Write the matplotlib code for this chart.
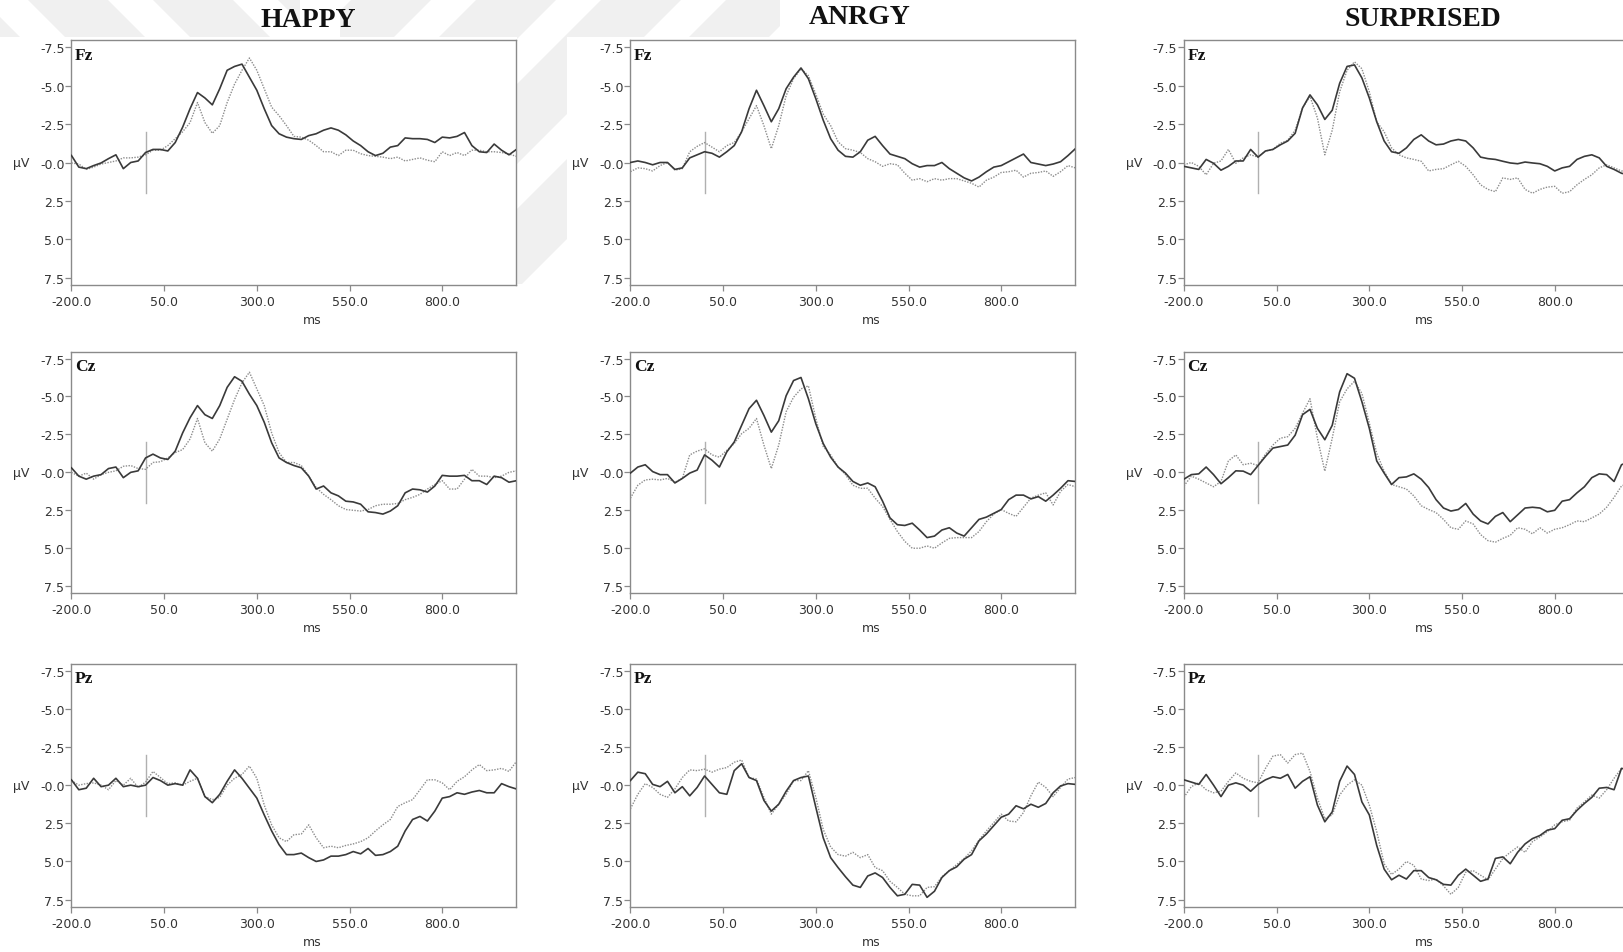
import numpy as np
import matplotlib
matplotlib.use("Agg")
import matplotlib.pyplot as plt
from matplotlib.patches import Polygon, Rectangle

# ---------------------------------------------------------------- data
time_ms = np.arange(-200, 1001, 20)

conditions = ["HAPPY", "ANRGY", "SURPRISED"]
electrodes = ["Fz", "Cz", "Pz"]

y_ticks = [-7.5, -5.0, -2.5, 0.0, 2.5, 5.0, 7.5]
y_tick_labels = ["-7.5", "-5.0", "-2.5", "-0.0", "2.5", "5.0", "7.5"]
x_ticks = [-200, 50, 300, 550, 800]
x_tick_labels = ["-200.0", "50.0", "300.0", "550.0", "800.0"]

# HAPPY
happy_fz_solid = [-0.46, 0.3, 0.4, 0.2, 0.03, -0.25, -0.5, 0.4, 0.0, -0.1, -0.65, -0.85, -0.85, -0.75, -1.3,
                  -2.3, -3.5, -4.55, -4.2, -3.75, -4.8, -6.0, -6.25, -6.4, -5.55, -4.7, -3.5, -2.4, -1.87, -1.65,
                  -1.55, -1.5, -1.75, -1.87, -2.1, -2.25, -2.1, -1.8, -1.4, -1.1, -0.7, -0.45, -0.6, -1.0, -1.1,
                  -1.6, -1.55, -1.55, -1.5, -1.3, -1.65, -1.6, -1.7, -1.95, -1.1, -0.7, -0.65, -1.2, -0.8, -0.5, -0.85]
happy_fz_dotted = [0.03, 0.1, 0.45, 0.3, 0.1, 0.0, -0.1, -0.3, -0.3, -0.35, -0.5, -0.8, -0.8, -1.1, -1.55,
                   -2.0, -2.6, -3.9, -2.6, -1.9, -2.4, -3.9, -5.1, -6.0, -6.8, -6.0, -4.8, -3.6, -3.05, -2.4,
                   -1.7, -1.65, -1.45, -1.1, -0.7, -0.7, -0.45, -0.8, -0.8, -0.57, -0.45, -0.4, -0.35, -0.25, -0.35,
                   -0.1, -0.2, -0.3, -0.15, -0.05, -0.7, -0.45, -0.65, -0.45, -0.8, -0.8, -0.7, -0.7, -0.65, -0.55, -0.4]
happy_cz_solid = [-0.3, 0.25, 0.45, 0.25, 0.15, -0.25, -0.35, 0.35, 0.0, -0.1, -0.95, -1.2, -0.95, -0.85, -1.4,
                  -2.6, -3.6, -4.4, -3.8, -3.55, -4.4, -5.6, -6.3, -6.0, -5.15, -4.4, -3.3, -1.95, -0.95, -0.65,
                  -0.45, -0.3, 0.25, 1.1, 0.9, 1.35, 1.55, 1.9, 1.95, 2.1, 2.6, 2.65, 2.75, 2.55, 2.2,
                  1.35, 1.1, 1.15, 1.3, 0.9, 0.2, 0.25, 0.25, 0.2, 0.55, 0.55, 0.8, 0.25, 0.35, 0.65, 0.55]
happy_cz_dotted = [0.0, 0.25, 0.05, 0.45, 0.15, 0.0, -0.1, -0.4, -0.45, -0.25, -0.2, -0.65, -0.7, -0.95, -1.3,
                   -1.5, -2.2, -3.55, -1.95, -1.4, -2.2, -3.5, -4.8, -5.9, -6.6, -5.5, -4.4, -2.6, -1.3, -0.65,
                   -0.65, -0.45, 0.25, 1.0, 1.45, 1.8, 2.2, 2.45, 2.5, 2.55, 2.45, 2.2, 2.1, 2.1, 2.05,
                   1.8, 1.65, 1.45, 1.1, 0.8, 0.55, 1.1, 1.1, 0.45, -0.2, 0.25, 0.25, 0.35, 0.25, 0.0, -0.1]
happy_pz_solid = [-0.35, 0.3, 0.2, -0.45, 0.1, 0.0, -0.45, 0.1, 0.0, 0.1, 0.0, -0.5, -0.3, 0.0, -0.1,
                  0.0, -1.0, -0.45, 0.75, 1.15, 0.6, -0.25, -1.0, -0.45, 0.2, 0.85, 1.95, 3.0, 3.9, 4.55,
                  4.55, 4.45, 4.75, 5.0, 4.9, 4.65, 4.65, 4.55, 4.35, 4.5, 4.15, 4.6, 4.55, 4.35, 4.0,
                  3.0, 2.25, 2.05, 2.35, 1.7, 0.85, 0.75, 0.5, 0.6, 0.45, 0.35, 0.5, 0.5, -0.1, 0.1, 0.25]
happy_pz_dotted = [-0.3, 0.0, -0.1, -0.15, 0.0, 0.3, -0.3, 0.0, -0.45, 0.15, -0.2, -0.9, -0.5, -0.1, -0.15,
                   0.0, -0.25, -0.45, 0.75, 0.95, 0.8, 0.0, -0.45, -0.7, -1.25, -0.45, 1.3, 2.6, 3.45, 3.7,
                   3.25, 3.2, 2.6, 3.45, 4.1, 4.0, 4.1, 3.95, 3.85, 3.7, 3.45, 3.0, 2.6, 2.25, 1.4,
                   1.15, 0.95, 0.3, -0.35, -0.35, -0.15, 0.3, -0.25, -0.55, -1.0, -1.35, -0.95, -1.0, -1.1, -0.9, -1.55]

# ANRGY
angry_fz_solid = [0.0, -0.1, 0.0, 0.15, 0.0, 0.0, 0.45, 0.35, -0.3, -0.5, -0.7, -0.6, -0.35, -0.7, -1.1,
                  -2.0, -3.5, -4.7, -3.7, -2.65, -3.5, -4.8, -5.55, -6.15, -5.45, -4.15, -2.75, -1.55, -0.8, -0.4,
                  -0.35, -0.7, -1.45, -1.7, -1.1, -0.55, -0.4, -0.25, 0.08, 0.3, 0.2, 0.2, 0.0, 0.4, 0.7,
                  1.0, 1.2, 0.95, 0.6, 0.3, 0.2, -0.05, -0.3, -0.55, 0.0, 0.1, 0.2, 0.1, -0.05, -0.45, -0.9]
angry_fz_dotted = [0.6, 0.35, 0.4, 0.55, 0.2, 0.0, 0.5, 0.4, -0.7, -1.05, -1.3, -1.0, -0.7, -1.1, -1.3,
                   -2.0, -2.85, -3.7, -2.4, -0.9, -2.4, -4.35, -5.45, -6.1, -5.65, -4.45, -3.15, -2.4, -1.35, -0.9,
                   -0.8, -0.65, -0.25, -0.05, 0.25, 0.08, 0.15, 0.7, 1.15, 1.05, 1.25, 1.05, 1.15, 1.05, 1.05,
                   1.2, 1.35, 1.6, 1.15, 0.95, 0.65, 0.6, 0.5, 0.95, 0.7, 0.65, 0.55, 0.9, 0.6, 0.2, 0.35]
angry_cz_solid = [0.05, -0.35, -0.5, -0.05, 0.15, 0.15, 0.7, 0.4, 0.05, -0.15, -1.15, -0.8, -0.35, -1.35, -2.0,
                  -3.1, -4.2, -4.75, -3.75, -2.65, -3.4, -5.05, -6.05, -6.25, -4.85, -3.2, -1.9, -1.0, -0.35, 0.05,
                  0.6, 0.85, 0.7, 0.95, 1.9, 3.0, 3.45, 3.5, 3.35, 3.8, 4.3, 4.2, 3.8, 3.65, 4.0,
                  4.2, 3.65, 3.1, 2.95, 2.7, 2.45, 1.8, 1.5, 1.5, 1.75, 1.6, 1.9, 1.5, 1.05, 0.55, 0.6]
angry_cz_dotted = [1.7, 0.85, 0.5, 0.45, 0.5, 0.4, 0.65, 0.4, -1.15, -1.4, -1.55, -1.15, -1.0, -1.45, -1.9,
                   -2.55, -2.9, -3.55, -1.8, -0.25, -1.8, -4.0, -4.95, -5.5, -5.7, -3.55, -1.7, -1.15, -0.35, 0.15,
                   0.85, 1.05, 1.05, 1.7, 2.25, 3.1, 3.9, 4.55, 5.0, 5.0, 4.85, 5.0, 4.65, 4.35, 4.3,
                   4.3, 4.3, 3.9, 3.25, 2.75, 2.45, 2.7, 2.9, 2.3, 1.7, 1.5, 1.35, 2.15, 1.25, 0.8, 0.95]
angry_pz_solid = [-0.3, -0.85, -0.75, -0.05, 0.1, -0.25, 0.5, 0.1, 0.7, 0.15, -0.6, -0.05, 0.5, 0.6, -0.95,
                  -1.4, -0.5, -0.3, 1.0, 1.7, 1.25, 0.4, -0.3, -0.5, -0.6, 1.45, 3.45, 4.75, 5.4, 6.0,
                  6.55, 6.7, 5.95, 5.75, 6.05, 6.7, 7.25, 7.15, 6.5, 6.55, 7.35, 6.95, 6.05, 5.6, 5.35,
                  4.85, 4.55, 3.65, 3.2, 2.65, 2.1, 1.9, 1.35, 1.55, 1.25, 1.45, 1.2, 0.5, 0.05, -0.1, -0.05]
angry_pz_dotted = [1.55, 0.6, -0.1, 0.15, 0.6, 0.8, 0.25, -0.5, -1.0, -0.95, -1.05, -0.85, -1.05, -1.15, -1.5,
                   -1.65, -0.5, -0.4, 0.8, 1.9, 1.25, 0.6, -0.3, -0.3, -0.95, 0.8, 2.9, 4.05, 4.55, 4.65,
                   4.4, 4.75, 4.55, 5.4, 5.6, 6.3, 6.7, 7.15, 7.25, 7.25, 6.7, 6.65, 6.0, 5.6, 5.2,
                   4.8, 4.3, 3.6, 3.0, 2.45, 1.9, 2.35, 2.4, 1.8, 0.7, -0.2, 0.15, 0.75, 0.15, -0.4, -0.5]

# SURPRISED
surprised_fz_solid = [0.25, 0.35, 0.45, -0.2, 0.05, 0.5, 0.25, -0.1, -0.1, -0.85, -0.35, -0.75, -0.85, -1.15, -1.4,
                      -1.9, -3.55, -4.4, -3.75, -2.8, -3.4, -5.15, -6.25, -6.35, -5.5, -4.2, -2.65, -1.4, -0.7, -0.6,
                      -0.95, -1.5, -1.8, -1.4, -1.15, -1.2, -1.4, -1.5, -1.4, -0.95, -0.35, -0.25, -0.2, -0.08, 0.03,
                      0.08, -0.03, 0.03, 0.08, 0.25, 0.55, 0.35, 0.25, -0.2, -0.4, -0.5, -0.3, 0.25, 0.45, 0.7, 0.8]
surprised_fz_dotted = [0.15, 0.0, 0.25, 0.8, 0.05, -0.1, -0.85, 0.05, -0.3, -0.5, -0.35, -0.75, -0.85, -1.25, -1.45,
                       -2.1, -3.55, -4.3, -2.9, -0.5, -2.1, -4.6, -6.0, -6.55, -6.1, -4.6, -2.65, -2.0, -0.95, -0.5,
                       -0.3, -0.2, -0.08, 0.55, 0.45, 0.4, 0.15, -0.08, 0.25, 0.8, 1.45, 1.75, 1.9, 1.0, 1.1,
                       1.0, 1.75, 2.0, 1.75, 1.6, 1.55, 2.0, 1.9, 1.45, 1.1, 0.8, 0.35, 0.15, 0.35, 0.55, 0.55]
surprised_cz_solid = [0.45, 0.15, 0.1, -0.35, 0.15, 0.75, 0.35, -0.1, -0.08, 0.15, -0.45, -1.05, -1.6, -1.7, -1.8,
                      -2.45, -3.8, -4.15, -2.9, -2.15, -3.1, -5.3, -6.5, -6.2, -4.65, -2.9, -0.75, 0.05, 0.8, 0.35,
                      0.3, 0.1, 0.45, 1.0, 1.8, 2.35, 2.55, 2.45, 2.05, 2.75, 3.2, 3.4, 2.9, 2.65, 3.25,
                      2.8, 2.35, 2.3, 2.35, 2.6, 2.5, 1.9, 1.8, 1.35, 0.95, 0.35, 0.1, 0.15, 0.6, -0.5, -0.7]
surprised_cz_dotted = [0.9, 0.25, 0.45, 0.7, 0.95, 0.6, -0.75, -1.15, -0.5, -0.6, -0.45, -1.2, -1.8, -2.25, -2.35,
                       -2.9, -3.9, -4.85, -2.25, -0.08, -2.25, -4.65, -5.5, -6.0, -5.2, -3.25, -1.25, -0.08, 0.8, 0.95,
                       1.1, 1.55, 2.2, 2.45, 2.65, 3.1, 3.65, 3.75, 3.2, 3.4, 4.1, 4.5, 4.6, 4.35, 4.15,
                       3.65, 3.75, 4.05, 3.65, 4.0, 3.75, 3.65, 3.45, 3.2, 3.25, 3.0, 2.75, 2.3, 1.65, 0.9, 0.7]
surprised_pz_solid = [-0.35, -0.2, -0.05, -0.7, 0.0, 0.75, 0.0, -0.15, 0.0, 0.4, -0.05, -0.35, -0.55, -0.45, -0.7,
                      0.2, -0.25, -0.55, 1.3, 2.4, 1.75, -0.25, -1.25, -0.7, 1.1, 1.95, 3.95, 5.5, 6.2, 5.9,
                      6.15, 5.6, 5.6, 6.05, 6.2, 6.5, 6.55, 5.9, 5.5, 5.9, 6.3, 6.15, 4.8, 4.7, 5.15,
                      4.4, 3.85, 3.5, 3.3, 2.95, 2.85, 2.3, 2.2, 1.65, 1.2, 0.8, 0.2, 0.15, 0.3, -1.1, -1.0]
surprised_pz_dotted = [0.8, 0.1, -0.15, 0.3, 0.5, 0.4, -0.25, -0.8, -0.45, -0.25, -0.15, -1.1, -1.9, -2.0, -1.45,
                       -2.0, -2.1, -0.9, 0.85, 2.2, 1.95, 0.65, 0.0, -0.35, 0.0, 1.3, 3.05, 5.15, 5.85, 5.5,
                       5.0, 5.25, 6.15, 6.25, 6.15, 6.6, 7.15, 6.7, 5.7, 5.6, 5.9, 6.2, 5.5, 4.8, 4.4,
                       4.05, 4.4, 3.7, 3.4, 3.05, 2.6, 2.4, 2.3, 1.5, 1.1, 0.65, 0.85, 0.3, -0.45, -1.1, -1.0]

waves = {
    ("HAPPY", "Fz"): (happy_fz_solid, happy_fz_dotted),
    ("HAPPY", "Cz"): (happy_cz_solid, happy_cz_dotted),
    ("HAPPY", "Pz"): (happy_pz_solid, happy_pz_dotted),
    ("ANRGY", "Fz"): (angry_fz_solid, angry_fz_dotted),
    ("ANRGY", "Cz"): (angry_cz_solid, angry_cz_dotted),
    ("ANRGY", "Pz"): (angry_pz_solid, angry_pz_dotted),
    ("SURPRISED", "Fz"): (surprised_fz_solid, surprised_fz_dotted),
    ("SURPRISED", "Cz"): (surprised_cz_solid, surprised_cz_dotted),
    ("SURPRISED", "Pz"): (surprised_pz_solid, surprised_pz_dotted),
}

# ---------------------------------------------------------------- layout (pixels)
W, H = 1623, 953
fig = plt.figure(figsize=(W / 100, H / 100), dpi=100)
fig.patch.set_facecolor("white")

# faint striped background emblem
bg = fig.add_axes([0, 0, 1, 1], zorder=-5)
bg.set_xlim(0, W)
bg.set_ylim(H, 0)
bg.axis("off")
stripe_col = "#f0f0f0"


def stripes(region, direction, period, width, phase):
    x0, y0, x1, y1 = region
    clip = Rectangle((x0, y0), x1 - x0, y1 - y0, transform=bg.transData)
    for a in np.arange(-1200, 2400, period):
        c = a + phase
        if direction == "/":   # x + y in [c, c + width]
            pts = [(c, 0), (c + width, 0), (c + width - 400, 400), (c - 400, 400)]
        else:                  # x - y in [c, c + width]
            pts = [(c, 0), (c + width, 0), (c + width + 400, 400), (c + 400, 400)]
        p = Polygon(pts, closed=True, facecolor=stripe_col, edgecolor="none")
        bg.add_patch(p)
        p.set_clip_path(clip)


stripes((0, 0, 300, 38), "\\", 125, 80, 102)
stripes((340, 0, 780, 38), "/", 125, 80, 52)
stripes((517, 38, 567, 285), "/", 125, 80, 52)

# axes rectangles: left, right, top, bottom in pixels
col_left = {"HAPPY": 71.4, "ANRGY": 630.4, "SURPRISED": 1183.9}
row_span = {"Fz": (41.3, 285.7), "Cz": (352.7, 594.0), "Pz": (664.8, 907.5)}
axes_w = 445.0

titles_px = {"HAPPY": (308, 20.7), "ANRGY": (860, 17.5), "SURPRISED": (1423, 19.3)}

sans = ["DejaVu Sans"]
serif = ["Liberation Serif", "DejaVu Serif"]
spine_col = "#8a8a8a"
text_col = "#333333"

for cond in conditions:
    tx, ty = titles_px[cond]
    fig.text(tx / W, 1 - ty / H, cond, ha="center", va="center",
             fontsize=20, fontweight="bold", family=serif, color="#111111")
    for elec in electrodes:
        l = col_left[cond]
        t, b = row_span[elec]
        ax = fig.add_axes([l / W, 1 - b / H, axes_w / W, (b - t) / H])
        solid, dotted = waves[(cond, elec)]
        ax.plot(time_ms, dotted, color="#8c8c8c", lw=1.0, ls=(0, (1, 1)), zorder=2)
        ax.plot(time_ms, solid, color="#3a3a3a", lw=1.2, zorder=3)
        ax.plot([0, 0], [-2.0, 2.0], color="#b0b0b0", lw=1.0, zorder=1)

        ax.set_xlim(-200, 1000)
        ax.set_ylim(7.95, -7.95)
        ax.set_yticks(y_ticks)
        ax.set_yticklabels(y_tick_labels)
        ax.set_xticks(x_ticks)
        ax.set_xticklabels(x_tick_labels)
        for s in ax.spines.values():
            s.set_color(spine_col)
            s.set_linewidth(1.0)
        ax.tick_params(axis="both", direction="out", length=4, width=0.9,
                       color=spine_col, labelcolor=text_col, labelsize=9)
        ax.tick_params(axis="y", pad=1)
        ax.tick_params(axis="x", pad=3.5)
        for lab in ax.get_xticklabels() + ax.get_yticklabels():
            lab.set_family(sans)

        h_px = b - t
        ax.text(3.6 / axes_w, 1 - 6.5 / h_px, elec, transform=ax.transAxes, ha="left", va="top",
                fontsize=12.5, fontweight="bold", family=serif, color="#111111")

        ax.text(-50 / axes_w, 0.0, "\u03bcV", transform=ax.get_yaxis_transform(),
                ha="center", va="center", fontsize=9, family=sans, color=text_col)
        ax.text(0.54, -35 / h_px, "ms", transform=ax.transAxes,
                ha="center", va="center", fontsize=9, family=sans, color=text_col)

fig.savefig("out.png", dpi=100, facecolor="white")
